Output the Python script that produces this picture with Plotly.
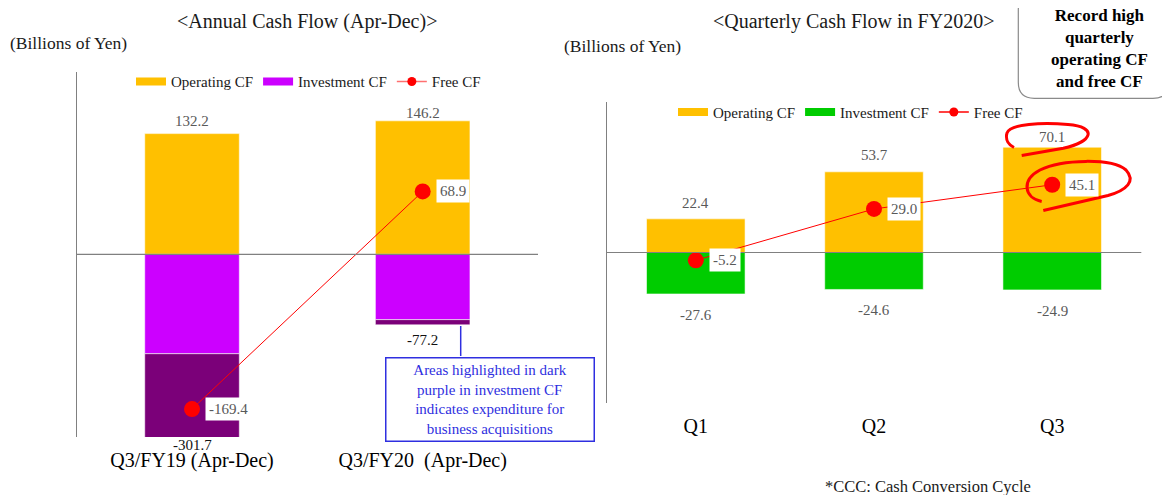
import plotly.graph_objects as go

# page is 1170x495; the browser adds an 8px body margin, so the figure is 1162x487
PAGE_OFF = 8
W, H = 1162, 487

# ---------------- data ----------------
annual_categories = ["Q3/FY19 (Apr-Dec)", "Q3/FY20\u00a0 (Apr-Dec)"]
annual_operating_cf = [132.2, 146.2]
annual_investment_cf = [-301.7, -77.2]          # totals shown as labels
annual_investment_regular = [-108.8, -71.5]     # light purple part
annual_investment_acquisition = [-192.9, -5.7]  # dark purple part (business acquisitions)
annual_free_cf = [-169.4, 68.9]

quarter_categories = ["Q1", "Q2", "Q3"]
quarter_operating_cf = [22.4, 53.7, 70.1]
quarter_investment_cf = [-27.6, -24.6, -24.9]
quarter_free_cf = [-5.2, 29.0, 45.1]

# ---------------- styles ----------------
SERIF = "Liberation Serif, Times New Roman, serif"
ORANGE = "#FFC000"
MAGENTA = "#CC00FF"
DARK_PURPLE = "#7B0079"
GREEN = "#00CC00"
RED = "#FF0000"
GRAY_AXIS = "#808080"
LABEL_GRAY = "#595959"
BLUE = "#2F2FE0"
LEFT_RANGE = [-200, 200]
RIGHT_RANGE = [-100, 100]


def px_x(x):
    return (x - PAGE_OFF) / W


def px_y(y):
    return 1 - (y - PAGE_OFF) / H


def path_from_px(cmds):
    out = []
    for c in cmds:
        if isinstance(c, str):
            out.append(c)
        else:
            out.append(f"{px_x(c[0]):.5f},{px_y(c[1]):.5f}")
    return " ".join(out)


fig = go.Figure()
bar_line = dict(color="rgba(255,255,255,0.55)", width=1)

# ----- left chart -----
fig.add_trace(go.Bar(x=annual_categories, y=annual_operating_cf, marker=dict(color=ORANGE, line=bar_line),
                     width=0.41, showlegend=False, xaxis="x", yaxis="y", hoverinfo="skip"))
fig.add_trace(go.Bar(x=annual_categories, y=annual_investment_regular, marker=dict(color=MAGENTA, line=bar_line),
                     width=0.41, showlegend=False, xaxis="x", yaxis="y", hoverinfo="skip"))
fig.add_trace(go.Bar(x=annual_categories, y=annual_investment_acquisition,
                     marker=dict(color=DARK_PURPLE, line=bar_line),
                     width=0.41, showlegend=False, xaxis="x", yaxis="y", hoverinfo="skip"))
fig.add_trace(go.Scatter(x=annual_categories, y=annual_free_cf, mode="lines+markers",
                         line=dict(color=RED, width=1), marker=dict(color=RED, size=16),
                         showlegend=False, xaxis="x", yaxis="y", cliponaxis=False))
# legend entries (left)
fig.add_trace(go.Scatter(x=[None], y=[None], mode="lines", name="Operating CF",
                         line=dict(color=ORANGE, width=8), legend="legend", xaxis="x", yaxis="y"))
fig.add_trace(go.Scatter(x=[None], y=[None], mode="lines", name="Investment CF",
                         line=dict(color=MAGENTA, width=8), legend="legend", xaxis="x", yaxis="y"))
fig.add_trace(go.Scatter(x=[None], y=[None], mode="lines+markers", name="Free CF",
                         line=dict(color="#FF7070", width=1.5), marker=dict(color=RED, size=9),
                         legend="legend", xaxis="x", yaxis="y"))

# ----- right chart -----
fig.add_trace(go.Bar(x=quarter_categories, y=quarter_operating_cf, marker=dict(color=ORANGE, line=bar_line),
                     width=0.553, showlegend=False, xaxis="x2", yaxis="y2", hoverinfo="skip"))
fig.add_trace(go.Bar(x=quarter_categories, y=quarter_investment_cf, marker=dict(color=GREEN, line=bar_line),
                     width=0.553, showlegend=False, xaxis="x2", yaxis="y2", hoverinfo="skip"))
fig.add_trace(go.Scatter(x=quarter_categories, y=quarter_free_cf, mode="lines+markers",
                         line=dict(color=RED, width=1), marker=dict(color=RED, size=16),
                         showlegend=False, xaxis="x2", yaxis="y2", cliponaxis=False))
fig.add_trace(go.Scatter(x=[None], y=[None], mode="lines", name="Operating CF",
                         line=dict(color=ORANGE, width=8), legend="legend2", xaxis="x2", yaxis="y2"))
fig.add_trace(go.Scatter(x=[None], y=[None], mode="lines", name="Investment CF",
                         line=dict(color=GREEN, width=8), legend="legend2", xaxis="x2", yaxis="y2"))
fig.add_trace(go.Scatter(x=[None], y=[None], mode="lines+markers", name="Free CF",
                         line=dict(color=RED, width=1.5), marker=dict(color=RED, size=9),
                         legend="legend2", xaxis="x2", yaxis="y2"))

annotations = []
# value labels: left operating
for c, v, s in zip(annual_categories, annual_operating_cf, [13, 8]):
    annotations.append(dict(x=c, y=v, xref="x", yref="y", text=f"{v:.1f}", showarrow=False,
                            yanchor="middle", yshift=s, font=dict(family=SERIF, size=15, color=LABEL_GRAY)))
# left investment totals
for c, v, s in zip(annual_categories, annual_investment_cf, [-8, -15.5]):
    annotations.append(dict(x=c, y=max(v, LEFT_RANGE[0]), xref="x", yref="y", text=f"{v:.1f}", showarrow=False,
                            yanchor="middle", yshift=s, font=dict(family=SERIF, size=15, color="#111111")))
# left free CF labels
for c, v in zip(annual_categories, annual_free_cf):
    annotations.append(dict(x=c, y=v, xref="x", yref="y", text=f"{v:.1f}", showarrow=False,
                            xanchor="left", yanchor="middle", xshift=13, bgcolor="white", borderpad=3,
                            font=dict(family=SERIF, size=15, color=LABEL_GRAY)))
# right operating
for c, v, s in zip(quarter_categories, quarter_operating_cf, [16.3, 16.7, 10]):
    annotations.append(dict(x=c, y=v, xref="x2", yref="y2", text=f"{v:.1f}", showarrow=False,
                            yanchor="middle", yshift=s, font=dict(family=SERIF, size=15, color=LABEL_GRAY)))
# right investment
for c, v in zip(quarter_categories, quarter_investment_cf):
    annotations.append(dict(x=c, y=v, xref="x2", yref="y2", text=f"{v:.1f}", showarrow=False,
                            yanchor="middle", yshift=-20.7, font=dict(family=SERIF, size=15, color=LABEL_GRAY)))
# right free CF
for c, v in zip(quarter_categories, quarter_free_cf):
    annotations.append(dict(x=c, y=v, xref="x2", yref="y2", text=f"{v:.1f}", showarrow=False,
                            xanchor="left", yanchor="middle", xshift=13, bgcolor="white", borderpad=3,
                            font=dict(family=SERIF, size=15, color=LABEL_GRAY)))

# titles and texts
annotations += [
    dict(x=px_x(306.8), y=px_y(21.7), xref="paper", yref="paper", showarrow=False,
         text="&lt;Annual Cash Flow (Apr-Dec)&gt;", xanchor="center", yanchor="middle",
         font=dict(family=SERIF, size=20, color="#1a1a1a")),
    dict(x=px_x(853.5), y=px_y(21.7), xref="paper", yref="paper", showarrow=False,
         text="&lt;Quarterly Cash Flow in FY2020&gt;", xanchor="center", yanchor="middle",
         font=dict(family=SERIF, size=20, color="#1a1a1a")),
    dict(x=px_x(8.4), y=px_y(42.7), xref="paper", yref="paper", showarrow=False,
         text="(Billions of Yen)", xanchor="left", yanchor="middle",
         font=dict(family=SERIF, size=17.5, color="#1a1a1a")),
    dict(x=px_x(562), y=px_y(45.7), xref="paper", yref="paper", showarrow=False,
         text="(Billions of Yen)", xanchor="left", yanchor="middle",
         font=dict(family=SERIF, size=17.5, color="#1a1a1a")),
    dict(x=px_x(1099), y=px_y(48), xref="paper", yref="paper", showarrow=False,
         text="<b>Record high<br>quarterly<br>operating CF<br>and free CF</b>", xanchor="center",
         yanchor="middle", align="center", font=dict(family=SERIF, size=17, color="#000000")),
    dict(x=px_x(489.5), y=px_y(399), xref="paper", yref="paper", showarrow=False,
         text="Areas highlighted in dark<br>purple in investment CF<br>indicates expenditure for<br>business acquisitions",
         xanchor="center", yanchor="middle", align="center", width=205, height=80,
         bordercolor=BLUE, borderwidth=1.5, borderpad=1, bgcolor="white",
         font=dict(family=SERIF, size=15, color=BLUE)),
    dict(x=px_x(823.3), y=px_y(486.5), xref="paper", yref="paper", showarrow=False,
         text="*CCC: Cash Conversion Cycle", xanchor="left", yanchor="middle",
         font=dict(family=SERIF, size=16.5, color="#1a1a1a")),
    dict(x=px_x(1162), y=px_y(489), xref="paper", yref="paper", showarrow=False,
         text="7", xanchor="left", yanchor="middle",
         font=dict(family=SERIF, size=15, color="#333333")),
]

shapes = [
    # zero lines
    dict(type="line", xref="x domain", yref="y", x0=0, x1=1, y0=0, y1=0,
         line=dict(color=GRAY_AXIS, width=1.2), layer="above"),
    dict(type="line", xref="x2 domain", yref="y2", x0=0, x1=1, y0=0, y1=0,
         line=dict(color=GRAY_AXIS, width=1.2), layer="above"),
    # connector to the blue note
    dict(type="line", xref="paper", yref="paper", x0=px_x(460.7), x1=px_x(460.7), y0=px_y(326), y1=px_y(356),
         line=dict(color=BLUE, width=1.5)),
    # rounded callout box
    dict(type="path", xref="paper", yref="paper", line=dict(color="#8a8a8a", width=1.2),
         path=path_from_px(["M", (1018.3, 10), "L", (1018.3, 82.3), "Q", (1018.3, 98.3), (1034.3, 98.3),
                            "L", (1153, 98.3), "Q", (1169, 98.3), (1169, 82.3), "L", (1169, 10),
                            "Q", (1169, -6), (1153, -6), "L", (1034.3, -6), "Q", (1018.3, -6), (1018.3, 10)])),
    # hand-drawn red loop around 70.1
    dict(type="path", xref="paper", yref="paper", line=dict(color=RED, width=3),
         path=path_from_px(["M", (1021.7, 155.5), "L", (1063.3, 148.3),
                            "C", (1093, 141.5), (1098, 127), (1068, 124.5),
                            "C", (1042, 122), (1010, 124), (1007, 133),
                            "C", (1005, 140), (1009, 145), (1014, 147.5)])),
    # hand-drawn red loop around 45.1
    dict(type="path", xref="paper", yref="paper", line=dict(color=RED, width=3),
         path=path_from_px(["M", (1041.7, 201.5),
                            "C", (1024, 198), (1021, 180), (1040, 170),
                            "C", (1062, 159), (1112, 158), (1126, 170),
                            "C", (1136, 181), (1127, 190), (1108, 195.5),
                            "L", (1043.3, 210.5)])),
]

axis_common = dict(showgrid=False, zeroline=False, automargin=False, fixedrange=True)
fig.update_layout(
    width=W, height=H,
    margin=dict(l=0, r=0, t=0, b=0),
    paper_bgcolor="white", plot_bgcolor="rgba(0,0,0,0)",
    barmode="relative",
    font=dict(family=SERIF),
    xaxis=dict(domain=[px_x(76.7), px_x(538)], range=[-0.5, 1.5], showline=False, ticks="",
               tickfont=dict(family=SERIF, size=20, color="#000000"), ticklabelstandoff=9, **axis_common),
    yaxis=dict(domain=[px_y(437), px_y(71.7)], range=LEFT_RANGE, showline=True, linecolor=GRAY_AXIS,
               linewidth=1.2, showticklabels=False, ticks="", **axis_common),
    xaxis2=dict(domain=[px_x(606.7), px_x(1141.3)], range=[-0.5, 2.5], showline=False, ticks="",
                tickfont=dict(family=SERIF, size=20, color="#000000"), ticklabelstandoff=9,
                anchor="y2", **axis_common),
    yaxis2=dict(domain=[px_y(402.7), px_y(102.3)], range=RIGHT_RANGE, showline=True, linecolor=GRAY_AXIS,
                linewidth=1.2, showticklabels=False, ticks="", anchor="x2", **axis_common),
    legend=dict(orientation="h", x=px_x(131), xanchor="left", y=px_y(81.7), yanchor="middle",
                font=dict(family=SERIF, size=15, color="#1a1a1a"), bgcolor="rgba(0,0,0,0)",
                itemwidth=30, itemclick=False, itemdoubleclick=False),
    legend2=dict(orientation="h", x=px_x(673), xanchor="left", y=px_y(112.3), yanchor="middle",
                 font=dict(family=SERIF, size=15, color="#1a1a1a"), bgcolor="rgba(0,0,0,0)",
                 itemwidth=30, itemclick=False, itemdoubleclick=False),
    annotations=annotations,
    shapes=shapes,
)

fig.write_html("out.html")
